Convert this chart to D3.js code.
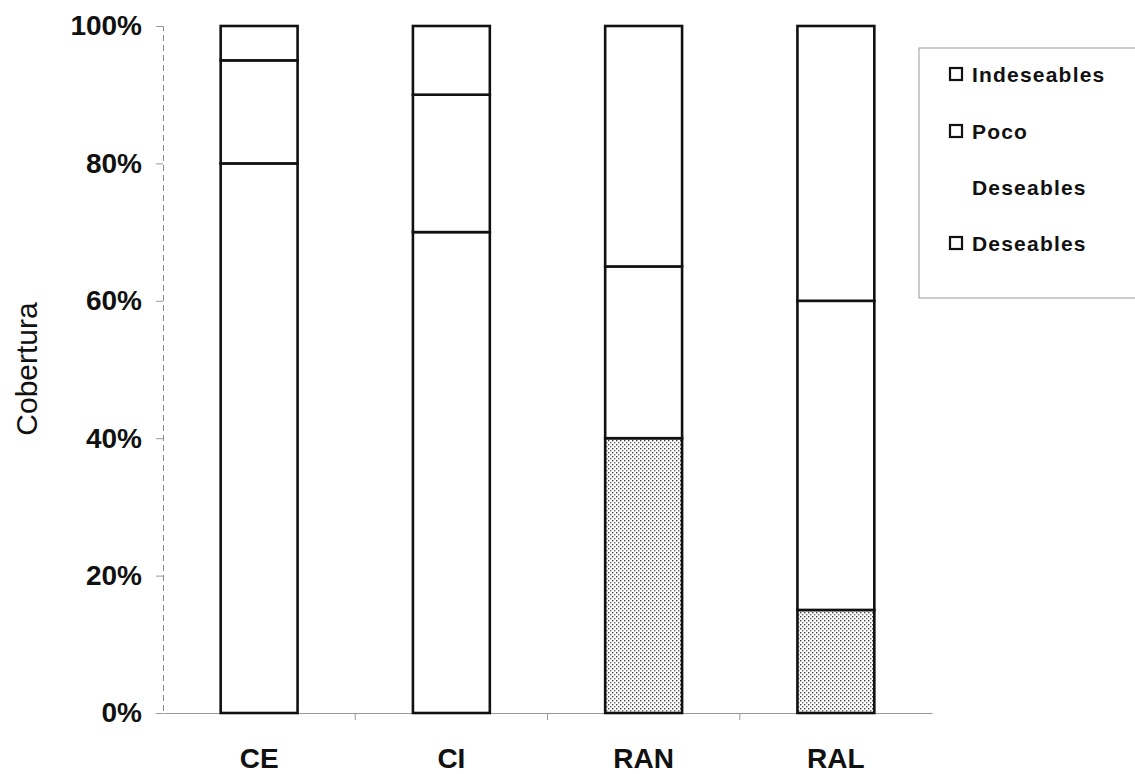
<!DOCTYPE html>
<html>
<head>
<meta charset="utf-8">
<script src="https://cdn.jsdelivr.net/npm/d3@7"></script>
<style>
  body { margin: 0; background: #fff; }
  text { font-family: "Liberation Sans", Arial, sans-serif; font-weight: bold; fill: #111; }
</style>
</head>
<body>
<script>
// categories and stacked shares (%)
let sites = ['CE', 'CI', 'RAN', 'RAL']
let deseables = [80, 70, 40, 15]
let pocoDeseables = [15, 20, 25, 45]
let indeseables = [5, 10, 35, 40]
let yTicks = [0, 20, 40, 60, 80, 100]
let seriesNames = ['Deseables', 'Poco Deseables', 'Indeseables']

let width = 1135, height = 774
let svg = d3.select('body').append('svg')
  .attr('width', width)
  .attr('height', height)

// stipple pattern, the scan shows grey dots in the lower segments of RAN and RAL
let defs = svg.append('defs')
let pat = defs.append('pattern')
  .attr('id', 'stipple')
  .attr('patternUnits', 'userSpaceOnUse')
  .attr('width', 4).attr('height', 4)
pat.append('rect').attr('width', 4).attr('height', 4).attr('fill', '#fff')
pat.append('rect').attr('x', 0).attr('y', 0).attr('width', 1.4).attr('height', 1.4).attr('fill', '#444')
pat.append('rect').attr('x', 2).attr('y', 2).attr('width', 1.4).attr('height', 1.4).attr('fill', '#666')

let x = d3.scaleBand()
  .domain(sites)
  .range([163, 932])
  .paddingInner(0.6)
  .paddingOuter(0.3)

let y = d3.scaleLinear()
  .domain([0, 100])
  .range([713, 26])

// build table for d3.stack
let table = sites.map((s, i) => ({
  site: s,
  'Deseables': deseables[i],
  'Poco Deseables': pocoDeseables[i],
  'Indeseables': indeseables[i]
}))
let stacked = d3.stack().keys(seriesNames)(table)

// axes
let yAxis = svg.append('g')
  .attr('transform', 'translate(163,0)')
  .call(d3.axisLeft(y).tickValues(yTicks).tickSize(7).tickPadding(14).tickFormat(d => d + '%'))
yAxis.select('.domain').attr('stroke', '#888').attr('stroke-dasharray', '6,4')
yAxis.selectAll('.tick line').attr('stroke', '#999')
yAxis.selectAll('text')
  .style('font-size', '28px')
  .style('font-weight', 'bold')
  .style('font-family', '"Liberation Sans", Arial, sans-serif')
  .attr('fill', '#111')

let xAxis = svg.append('g')
  .attr('transform', 'translate(0,713)')
  .call(d3.axisBottom(x).tickSize(0))
xAxis.select('.domain').attr('stroke', '#999')
xAxis.selectAll('text')
  .attr('y', 55)
  .attr('dy', 0)
  .style('font-size', '28px')
  .style('font-weight', 'bold')
  .style('font-family', '"Liberation Sans", Arial, sans-serif')
  .attr('fill', '#111')

// small ticks between categories
let step = x.step()
svg.append('g')
  .selectAll('line')
  .data(sites.slice(1))
  .enter()
  .append('line')
  .attr('x1', d => x(d) - (step - x.bandwidth()) / 2)
  .attr('x2', d => x(d) - (step - x.bandwidth()) / 2)
  .attr('y1', 713)
  .attr('y2', 720)
  .attr('stroke', '#999')

// y title
svg.append('text')
  .attr('transform', 'translate(37,369) rotate(-90)')
  .attr('text-anchor', 'middle')
  .style('font-size', '30px')
  .style('font-weight', 'normal')
  .text('Cobertura')

// bars
let layer = svg.selectAll('.Layer')
  .data(stacked)
  .enter()
  .append('g')
  .attr('class', 'Layer')

layer.selectAll('rect')
  .data(d => d.map(seg => ({ seg: seg, key: d.key })))
  .enter()
  .append('rect')
  .attr('x', d => x(d.seg.data.site))
  .attr('y', d => y(d.seg[1]))
  .attr('width', x.bandwidth())
  .attr('height', d => y(d.seg[0]) - y(d.seg[1]))
  .attr('fill', d => (d.key === 'Deseables' && (d.seg.data.site === 'RAN' || d.seg.data.site === 'RAL')) ? 'url(#stipple)' : '#fff')
  .attr('stroke', '#111')
  .attr('stroke-width', 2.6)

// legend
svg.append('rect')
  .attr('x', 919).attr('y', 48)
  .attr('width', 230).attr('height', 250)
  .attr('fill', '#fff')
  .attr('stroke', '#999')
  .attr('stroke-width', 1)

let legendItems = [
  { lines: ['Indeseables'], y: 82 },
  { lines: ['Poco', 'Deseables'], y: 139 },
  { lines: ['Deseables'], y: 251 }
]
legendItems.forEach(item => {
  svg.append('rect')
    .attr('x', 950).attr('y', item.y - 14)
    .attr('width', 12).attr('height', 12)
    .attr('fill', '#fff')
    .attr('stroke', '#111')
    .attr('stroke-width', 2.2)
  item.lines.forEach((ln, i) => {
    svg.append('text')
      .attr('x', 972)
      .attr('y', item.y + i * 56)
      .style('font-size', '21px')
      .style('letter-spacing', '1.2px')
      .text(ln)
  })
})
</script>
</body>
</html>
